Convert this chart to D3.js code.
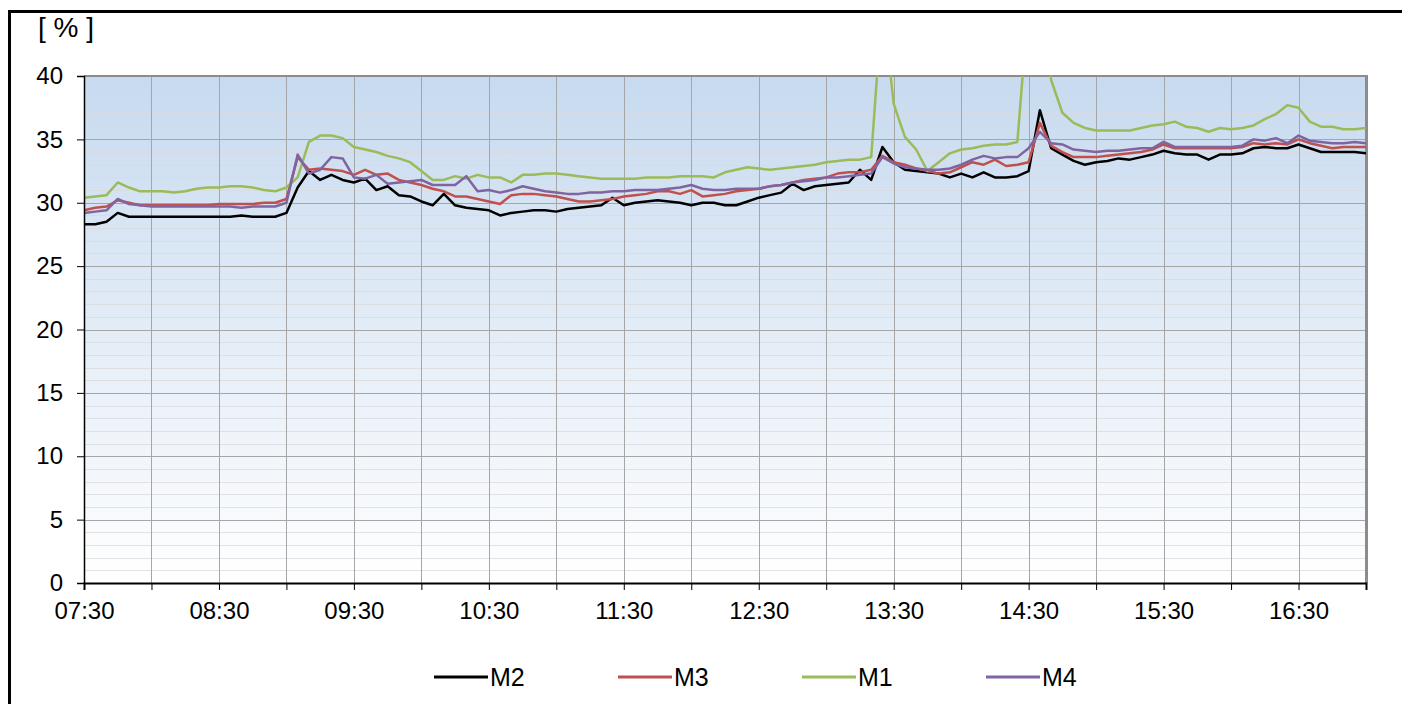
<!DOCTYPE html>
<html><head><meta charset="utf-8">
<script src="https://cdn.jsdelivr.net/npm/d3@7"></script>
<style>
body{margin:0;background:#fff;}
svg{display:block;font-family:"Liberation Sans",Arial,Helvetica,sans-serif;}
</style>
</head><body>
<svg id="c" width="1402" height="704"></svg>
<script>
// ---- data (5-minute samples from 07:30 to 17:00) ----
const startTime = "07:30";
const endTime = "17:00";
const stepMinutes = 5;
const seriesNames = ["M2", "M3", "M1", "M4"];
const seriesColors = ["#000000", "#c0504d", "#9bbb59", "#8064a2"];

const M2 = [28.3,28.3,28.5,29.2,28.9,28.9,28.9,28.9,28.9,28.9,
  28.9,28.9,28.9,28.9,29.0,28.9,28.9,28.9,29.2,31.2,
  32.5,31.8,32.2,31.8,31.6,31.9,31.0,31.3,30.6,30.5,
  30.1,29.8,30.7,29.8,29.6,29.5,29.4,29.0,29.2,29.3,
  29.4,29.4,29.3,29.5,29.6,29.7,29.8,30.4,29.8,30.0,
  30.1,30.2,30.1,30.0,29.8,30.0,30.0,29.8,29.8,30.1,
  30.4,30.6,30.8,31.5,31.0,31.3,31.4,31.5,31.6,32.6,
  31.8,34.4,33.2,32.6,32.5,32.4,32.3,32.0,32.3,32.0,
  32.4,32.0,32.0,32.1,32.5,37.3,34.3,33.8,33.3,33.0,
  33.2,33.3,33.5,33.4,33.6,33.8,34.1,33.9,33.8,33.8,
  33.4,33.8,33.8,33.9,34.3,34.4,34.3,34.3,34.6,34.3,
  34.0,34.0,34.0,34.0,33.9];

const M3 = [29.4,29.6,29.7,30.2,30.0,29.8,29.8,29.8,29.8,29.8,
  29.8,29.8,29.9,29.9,29.9,29.9,30.0,30.0,30.3,33.6,
  32.6,32.7,32.6,32.5,32.2,32.6,32.2,32.3,31.8,31.6,
  31.4,31.1,30.9,30.5,30.5,30.3,30.1,29.9,30.6,30.7,
  30.7,30.6,30.5,30.3,30.1,30.1,30.2,30.3,30.5,30.6,
  30.7,30.9,30.9,30.7,31.0,30.5,30.6,30.7,30.9,31.0,
  31.1,31.3,31.4,31.6,31.8,31.9,32.0,32.3,32.4,32.4,
  32.6,33.7,33.2,33.0,32.7,32.5,32.3,32.4,32.8,33.2,
  33.0,33.4,32.9,33.0,33.2,36.3,34.5,34.0,33.6,33.6,
  33.6,33.7,33.8,33.9,34.0,34.2,34.6,34.3,34.3,34.3,
  34.3,34.3,34.3,34.4,34.7,34.6,34.7,34.6,35.0,34.7,
  34.5,34.3,34.4,34.4,34.4];

const M1 = [30.4,30.5,30.6,31.6,31.2,30.9,30.9,30.9,30.8,30.9,
  31.1,31.2,31.2,31.3,31.3,31.2,31.0,30.9,31.2,32.0,
  34.8,35.3,35.3,35.1,34.4,34.2,34.0,33.7,33.5,33.2,
  32.5,31.8,31.8,32.1,31.9,32.2,32.0,32.0,31.6,32.2,
  32.2,32.3,32.3,32.2,32.1,32.0,31.9,31.9,31.9,31.9,
  32.0,32.0,32.0,32.1,32.1,32.1,32.0,32.4,32.6,32.8,
  32.7,32.6,32.7,32.8,32.9,33.0,33.2,33.3,33.4,33.4,
  33.6,46.0,37.8,35.2,34.2,32.5,33.2,33.9,34.2,34.3,
  34.5,34.6,34.6,34.8,46.0,46.0,39.7,37.1,36.3,35.9,
  35.7,35.7,35.7,35.7,35.9,36.1,36.2,36.4,36.0,35.9,
  35.6,35.9,35.8,35.9,36.1,36.6,37.0,37.7,37.5,36.4,
  36.0,36.0,35.8,35.8,35.9];

const M4 = [29.2,29.3,29.4,30.3,29.9,29.8,29.7,29.7,29.7,29.7,
  29.7,29.7,29.7,29.7,29.6,29.7,29.7,29.7,30.0,33.8,
  32.3,32.6,33.6,33.5,32.0,31.9,32.2,31.5,31.6,31.7,
  31.8,31.4,31.4,31.4,32.1,30.9,31.0,30.8,31.0,31.3,
  31.1,30.9,30.8,30.7,30.7,30.8,30.8,30.9,30.9,31.0,
  31.0,31.0,31.1,31.2,31.4,31.1,31.0,31.0,31.1,31.1,
  31.1,31.3,31.4,31.6,31.7,31.8,32.0,32.0,32.1,32.2,
  32.3,33.6,33.1,32.8,32.7,32.6,32.6,32.7,33.0,33.4,
  33.7,33.5,33.6,33.6,34.3,35.6,34.7,34.6,34.2,34.1,
  34.0,34.1,34.1,34.2,34.3,34.3,34.8,34.4,34.4,34.4,
  34.4,34.4,34.4,34.5,35.0,34.9,35.1,34.7,35.3,34.9,
  34.8,34.7,34.7,34.8,34.7];

const yTicks = [0, 5, 10, 15, 20, 25, 30, 35, 40];
const xTickLabels = ["07:30","08:30","09:30","10:30","11:30","12:30","13:30","14:30","15:30","16:30"];
const yUnitLabel = "[ % ]";

// ---- layout ----
const W = 1402, H = 704;
const plot = {left: 84, right: 1366, top: 76, bottom: 583};

const parse = d3.timeParse("%H:%M");
const t0 = parse(startTime), t1 = parse(endTime);
const x = d3.scaleTime().domain([t0, t1]).range([plot.left, plot.right]);
const y = d3.scaleLinear().domain([0, 40]).range([plot.bottom, plot.top]);

const svg = d3.select("#c");
const defs = svg.append("defs");
const grad = defs.append("linearGradient").attr("id", "bg")
  .attr("x1", 0).attr("y1", 0).attr("x2", 0).attr("y2", 1);
grad.append("stop").attr("offset", "0%").attr("stop-color", "#c7daef");
grad.append("stop").attr("offset", "100%").attr("stop-color", "#ffffff");
defs.append("clipPath").attr("id", "clip").append("rect")
  .attr("x", plot.left).attr("y", plot.top)
  .attr("width", plot.right - plot.left).attr("height", plot.bottom - plot.top);

// outer frame (cut off on the right/bottom)
svg.append("rect").attr("x", 9.5).attr("y", 11.5).attr("width", 1500).attr("height", 1000)
  .attr("fill", "none").attr("stroke", "#000").attr("stroke-width", 3);

// plot background
svg.append("rect").attr("x", plot.left).attr("y", plot.top)
  .attr("width", plot.right - plot.left).attr("height", plot.bottom - plot.top)
  .attr("fill", "url(#bg)");

// minor horizontal grid (every 1 unit)
const minorVals = d3.range(0, 41, 1).filter(v => v % 5 !== 0);
svg.append("g").selectAll("line").data(minorVals).join("line")
  .attr("x1", plot.left).attr("x2", plot.right)
  .attr("y1", d => Math.round(y(d)) + 0.5).attr("y2", d => Math.round(y(d)) + 0.5)
  .attr("stroke", "#d9d9d9").attr("stroke-opacity", 0.75).attr("stroke-width", 1);

// major horizontal grid
svg.append("g").selectAll("line").data(yTicks.filter(v => v > 0 && v < 40)).join("line")
  .attr("x1", plot.left).attr("x2", plot.right)
  .attr("y1", d => Math.round(y(d)) + 0.5).attr("y2", d => Math.round(y(d)) + 0.5)
  .attr("stroke", "#a6a6a6").attr("stroke-width", 1);

// vertical grid every 30 minutes
const xTickTimes = d3.timeMinute.every(30).range(t0, d3.timeMinute.offset(t1, 1));
svg.append("g").selectAll("line").data(xTickTimes.filter((d, i) => i > 0 && i < xTickTimes.length - 1)).join("line")
  .attr("x1", d => Math.round(x(d)) + 0.5).attr("x2", d => Math.round(x(d)) + 0.5)
  .attr("y1", plot.top).attr("y2", plot.bottom)
  .attr("stroke", "#a6a6a6").attr("stroke-width", 1);

// top and right plot border
svg.append("line").attr("x1", plot.left).attr("x2", plot.right + 1)
  .attr("y1", plot.top).attr("y2", plot.top).attr("stroke", "#8c8c8c").attr("stroke-width", 2);
svg.append("line").attr("x1", plot.right + 0.5).attr("x2", plot.right + 0.5)
  .attr("y1", plot.top - 1).attr("y2", plot.bottom).attr("stroke", "#8c8c8c").attr("stroke-width", 3);

// series lines
const seriesData = [M2, M3, M1, M4];
const line = d3.line()
  .defined(d => d != null)
  .x((d, i) => x(d3.timeMinute.offset(t0, i * stepMinutes)))
  .y(d => y(d));
const lines = svg.append("g").attr("clip-path", "url(#clip)");
seriesData.forEach((s, k) => {
  lines.append("path").datum(s)
    .attr("fill", "none").attr("stroke", seriesColors[k])
    .attr("stroke-width", 2.5).attr("stroke-linejoin", "round")
    .attr("d", line);
});

// axes
const xLabelSet = new Set(xTickLabels);
const fmt = d3.timeFormat("%H:%M");
const xAxis = d3.axisBottom(x).tickValues(xTickTimes).tickSize(7).tickPadding(12)
  .tickFormat(d => xLabelSet.has(fmt(d)) ? fmt(d) : "");
const gx = svg.append("g").attr("transform", `translate(0,${plot.bottom})`).call(xAxis);
gx.select(".domain").attr("stroke", "#000").attr("stroke-width", 2);
gx.selectAll(".tick line").attr("stroke", "#000");
gx.selectAll("text").attr("font-size", 24).attr("fill", "#000")
  .attr("font-family", "'Liberation Sans', Arial, sans-serif");

const yAxis = d3.axisLeft(y).tickValues(yTicks).tickSize(7).tickPadding(14).tickFormat(d3.format("d"));
const gy = svg.append("g").attr("transform", `translate(${plot.left},0)`).call(yAxis);
gy.select(".domain").attr("stroke", "#000").attr("stroke-width", 1.5);
gy.selectAll(".tick line").attr("stroke", "#000");
gy.selectAll("text").attr("font-size", 24).attr("fill", "#000")
  .attr("font-family", "'Liberation Sans', Arial, sans-serif");

// unit label
svg.append("text").attr("x", 38).attr("y", 37).attr("font-size", 28).text(yUnitLabel);

// legend
const legendX0 = 434, legendStep = 184, legendY = 677;
seriesNames.forEach((n, k) => {
  const g = svg.append("g").attr("transform", `translate(${legendX0 + k * legendStep},${legendY})`);
  g.append("line").attr("x1", 0).attr("x2", 54).attr("y1", 0).attr("y2", 0)
    .attr("stroke", seriesColors[k]).attr("stroke-width", 3);
  g.append("text").attr("x", 56).attr("y", 9)
    .attr("font-size", 25).attr("fill", "#000").text(n);
});
</script>
</body></html>
